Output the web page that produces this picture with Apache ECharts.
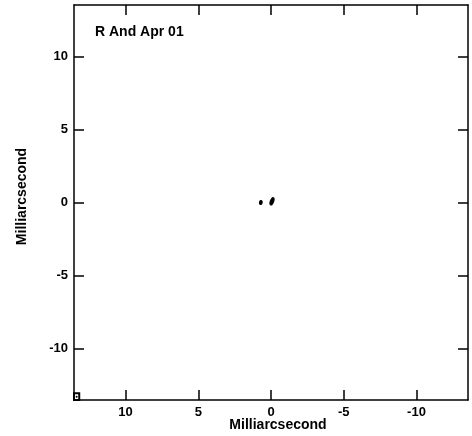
<!DOCTYPE html>
<html>
<head>
<meta charset="utf-8">
<script src="https://cdn.jsdelivr.net/npm/echarts@6/dist/echarts.min.js"></script>
<style>
html,body{margin:0;padding:0;background:#fff;}
#chart{width:472px;height:436px;}
</style>
</head>
<body>
<div id="chart"></div>
<script>
// Axis extent (milliarcseconds) and tick labels
var axisMin = -13.54;
var axisMax = 13.54;
var tickValues = [-10, -5, 0, 5, 10];
var titleText = 'R And Apr 01';
var axisTitle = 'Milliarcsecond';

// Contour components: centre (x, y), semi-axes (a, b) in mas, position angle in degrees
var compX = [0.70, -0.07];
var compY = [0.00, 0.08];
var compA = [0.09, 0.11];
var compB = [0.13, 0.26];
var compPA = [10, 20];

// Restoring beam box at the lower-left corner (corner x, y and size in mas)
var beamX = [13.54];
var beamY = [-13.54];
var beamW = [0.36];
var beamH = [0.46];

var FONT = '"Liberation Sans", Arial, Helvetica, sans-serif';

var contourData = compX.map(function (x, i) {
  return [x, compY[i], compA[i], compB[i], compPA[i]];
});
var beamData = beamX.map(function (x, i) {
  return [x, beamY[i], beamW[i], beamH[i]];
});

var chart = echarts.init(document.getElementById('chart'), null, {renderer: 'canvas'});

function mkX(pos, showLabels) {
  return {
    type: 'value', position: pos, inverse: true, min: axisMin, max: axisMax,
    name: showLabels ? axisTitle : '', nameLocation: 'middle', nameGap: 18, nameMoveOverlap: false,
    nameTextStyle: {fontFamily: FONT, fontWeight: 'bold', fontSize: 14, color: '#000', padding: [0, 0, 0, 14]},
    axisLine: {show: true, onZero: false, lineStyle: {color: '#000', width: 1.5}},
    axisTick: {show: true, inside: true, length: 10, customValues: tickValues, lineStyle: {color: '#000', width: 1.5}},
    axisLabel: {show: showLabels, customValues: tickValues, margin: 6, fontFamily: FONT, fontWeight: 'bold', fontSize: 13, color: '#000'},
    splitLine: {show: false}
  };
}
function mkY(pos, showLabels) {
  return {
    type: 'value', position: pos, min: axisMin, max: axisMax,
    name: showLabels ? axisTitle : '', nameLocation: 'middle', nameGap: 45,
    nameTextStyle: {fontFamily: FONT, fontWeight: 'bold', fontSize: 14, color: '#000', padding: [0, 0, 0, 12]},
    axisLine: {show: true, onZero: false, lineStyle: {color: '#000', width: 1.5}},
    axisTick: {show: true, inside: true, length: 10, customValues: tickValues, lineStyle: {color: '#000', width: 1.5}},
    axisLabel: {show: showLabels, customValues: tickValues, margin: 6, fontFamily: FONT, fontWeight: 'bold', fontSize: 13, color: '#000'},
    splitLine: {show: false}
  };
}

var option = {
  backgroundColor: '#fff',
  animation: false,
  title: {
    text: titleText, left: 95, top: 25, padding: 0,
    textStyle: {fontFamily: FONT, fontWeight: 'bold', fontSize: 14, color: '#000'}
  },
  grid: {left: 74, right: 4, top: 5, bottom: 36, containLabel: false, outerBoundsMode: 'none'},
  xAxis: [mkX('bottom', true), mkX('top', false)],
  yAxis: [mkY('left', true), mkY('right', false)],
  series: [
    {
      type: 'custom', xAxisIndex: 0, yAxisIndex: 0, clip: true,
      data: contourData,
      renderItem: function (params, api) {
        var c = api.coord([api.value(0), api.value(1)]);
        var s = api.size([api.value(2), api.value(3)]);
        var rot = -api.value(4) * Math.PI / 180;
        return {
          type: 'ellipse', x: c[0], y: c[1], rotation: rot,
          shape: {cx: 0, cy: 0, rx: s[0], ry: s[1]},
          style: {fill: '#000', stroke: '#000', lineWidth: 1.2}
        };
      }
    },
    {
      type: 'custom', xAxisIndex: 0, yAxisIndex: 0, clip: false,
      data: beamData,
      renderItem: function (params, api) {
        var p0 = api.coord([api.value(0), api.value(1)]);
        var s = api.size([api.value(2), api.value(3)]);
        return {
          type: 'group',
          children: [
            {type: 'rect', shape: {x: p0[0], y: p0[1] - s[1], width: s[0], height: s[1]},
             style: {fill: '#fff', stroke: '#000', lineWidth: 2}},
            {type: 'circle', shape: {cx: p0[0] + s[0] / 2, cy: p0[1] - s[1] / 2, r: 1},
             style: {fill: '#000'}}
          ]
        };
      }
    }
  ]
};
chart.setOption(option);
</script>
</body>
</html>
